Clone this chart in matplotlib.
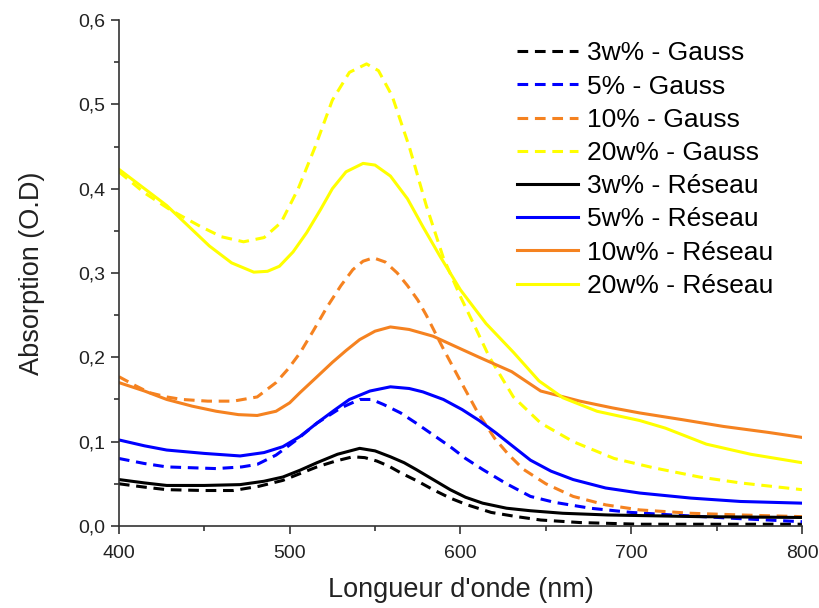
import matplotlib.pyplot as plt
from matplotlib.ticker import MultipleLocator, FuncFormatter

plt.rcParams['font.family'] = ['Liberation Sans', 'DejaVu Sans']

# --- data (wavelength nm, absorbance) ---
x_g3 = [400, 415, 428, 450, 467, 482, 496, 506, 516, 527, 537, 544, 551, 558, 565, 575, 584, 594, 604, 618, 633, 647, 670, 705, 800]
y_g3 = [0.050, 0.046, 0.043, 0.042, 0.042, 0.047, 0.054, 0.062, 0.070, 0.077, 0.082, 0.081, 0.077, 0.071, 0.063, 0.053, 0.043, 0.033, 0.025, 0.016, 0.011, 0.007, 0.004, 0.002, 0.002]

x_g5 = [400, 415, 428, 457, 472, 481, 492, 504, 516, 530, 541, 548, 555, 565, 574, 584, 594, 603, 613, 627, 641, 655, 676, 700, 724, 760, 800]
y_g5 = [0.080, 0.074, 0.070, 0.068, 0.070, 0.073, 0.084, 0.102, 0.122, 0.140, 0.150, 0.150, 0.144, 0.134, 0.122, 0.108, 0.094, 0.080, 0.067, 0.050, 0.035, 0.028, 0.021, 0.016, 0.013, 0.009, 0.005]

x_g10 = [400, 410, 418, 428, 437, 452, 467, 481, 492, 499, 506, 514, 522, 530, 537, 543, 549, 556, 563, 569, 575, 580, 590, 600, 610, 620, 628, 637, 650, 666, 685, 705, 735, 764, 800]
y_g10 = [0.177, 0.166, 0.158, 0.153, 0.150, 0.148, 0.148, 0.153, 0.170, 0.186, 0.205, 0.232, 0.260, 0.285, 0.304, 0.314, 0.318, 0.313, 0.300, 0.285, 0.268, 0.250, 0.210, 0.172, 0.135, 0.104, 0.085, 0.067, 0.050, 0.035, 0.025, 0.019, 0.015, 0.013, 0.011]

x_g20 = [400, 415, 430, 447, 460, 473, 485, 495, 505, 515, 525, 535, 545, 552, 560, 570, 580, 590, 600, 610, 617, 631, 647, 666, 690, 713, 740, 764, 800]
y_g20 = [0.420, 0.395, 0.375, 0.356, 0.343, 0.337, 0.342, 0.360, 0.400, 0.450, 0.505, 0.538, 0.548, 0.540, 0.510, 0.450, 0.380, 0.318, 0.272, 0.230, 0.200, 0.153, 0.122, 0.100, 0.080, 0.069, 0.058, 0.051, 0.043]

x_r3 = [400, 415, 428, 450, 471, 485, 496, 506, 516, 528, 541, 550, 559, 567, 574, 584, 594, 603, 613, 627, 641, 660, 686, 740, 800]
y_r3 = [0.055, 0.051, 0.048, 0.048, 0.049, 0.053, 0.058, 0.066, 0.075, 0.085, 0.092, 0.089, 0.082, 0.075, 0.067, 0.055, 0.043, 0.034, 0.027, 0.021, 0.018, 0.015, 0.013, 0.011, 0.010]

x_r5 = [400, 415, 428, 450, 471, 485, 496, 506, 516, 526, 535, 547, 559, 570, 578, 590, 601, 611, 621, 631, 641, 653, 666, 685, 705, 735, 764, 800]
y_r5 = [0.102, 0.095, 0.090, 0.086, 0.083, 0.087, 0.094, 0.106, 0.122, 0.137, 0.150, 0.160, 0.165, 0.163, 0.159, 0.150, 0.138, 0.125, 0.110, 0.094, 0.078, 0.065, 0.055, 0.045, 0.039, 0.033, 0.029, 0.027]

x_r10 = [400, 415, 428, 443, 457, 470, 481, 492, 500, 506, 515, 525, 533, 541, 550, 559, 570, 584, 598, 611, 630, 647, 670, 689, 705, 730, 754, 780, 800]
y_r10 = [0.170, 0.160, 0.150, 0.142, 0.136, 0.132, 0.131, 0.136, 0.146, 0.158, 0.175, 0.194, 0.208, 0.221, 0.231, 0.236, 0.233, 0.225, 0.212, 0.200, 0.183, 0.160, 0.148, 0.140, 0.134, 0.126, 0.118, 0.111, 0.105]

x_r20 = [400, 415, 428, 440, 453, 466, 479, 487, 494, 502, 510, 518, 525, 533, 543, 550, 559, 569, 578, 588, 600, 615, 631, 646, 660, 680, 705, 720, 744, 770, 800]
y_r20 = [0.423, 0.400, 0.380, 0.357, 0.332, 0.312, 0.301, 0.302, 0.308, 0.325, 0.348, 0.375, 0.400, 0.420, 0.430, 0.428, 0.415, 0.388, 0.355, 0.320, 0.280, 0.240, 0.206, 0.172, 0.152, 0.136, 0.125, 0.116, 0.097, 0.085, 0.075]

labels = ['3w% - Gauss', '5% - Gauss', '10% - Gauss', '20w% - Gauss',
          '3w% - Réseau', '5w% - Réseau', '10w% - Réseau', '20w% - Réseau']
colors = ['black', '#0000FF', '#F58220', '#FFFF00']

fig = plt.figure(figsize=(8.2, 6.08), dpi=100)
ax = fig.add_axes([0.145, 0.135, 0.833, 0.832])

gauss = [(x_g3, y_g3), (x_g5, y_g5), (x_g10, y_g10), (x_g20, y_g20)]
reseau = [(x_r3, y_r3), (x_r5, y_r5), (x_r10, y_r10), (x_r20, y_r20)]

for i, (xs, ys) in enumerate(gauss):
    ax.plot(xs, ys, color=colors[i], lw=2.2, dashes=(3.5, 2.2), label=labels[i])
for i, (xs, ys) in enumerate(reseau):
    ax.plot(xs, ys, color=colors[i], lw=2.2, label=labels[4 + i])

ax.set_xlim(400, 800)
ax.set_ylim(0, 0.6)
ax.xaxis.set_major_locator(MultipleLocator(100))
ax.xaxis.set_minor_locator(MultipleLocator(50))
ax.yaxis.set_major_locator(MultipleLocator(0.1))
ax.yaxis.set_minor_locator(MultipleLocator(0.05))
ax.yaxis.set_major_formatter(FuncFormatter(lambda v, p: f'{v:.1f}'.replace('.', ',')))

for s in ['top', 'right']:
    ax.spines[s].set_visible(False)
for s in ['left', 'bottom']:
    ax.spines[s].set_linewidth(1.2)
    ax.spines[s].set_color('#333333')
ax.tick_params(which='major', direction='out', length=6, width=1.2, labelsize=14,
               colors='#333333', labelcolor='#222222')
ax.tick_params(which='minor', direction='out', length=3.8, width=1.2, colors='#333333')
ax.tick_params(axis='x', pad=7.5)

ax.set_xlabel("Longueur d'onde (nm)", fontsize=19.5, labelpad=11, color='#222222')
ax.set_ylabel('Absorption (O.D)', fontsize=19.5, labelpad=24, color='#222222')

ax.legend(loc='upper left', bbox_to_anchor=(0.583, 0.958), frameon=False, fontsize=19,
          handlelength=2.3, handletextpad=0.33, labelspacing=0.35,
          borderaxespad=0, borderpad=0)

plt.savefig('out.png', dpi=100)
